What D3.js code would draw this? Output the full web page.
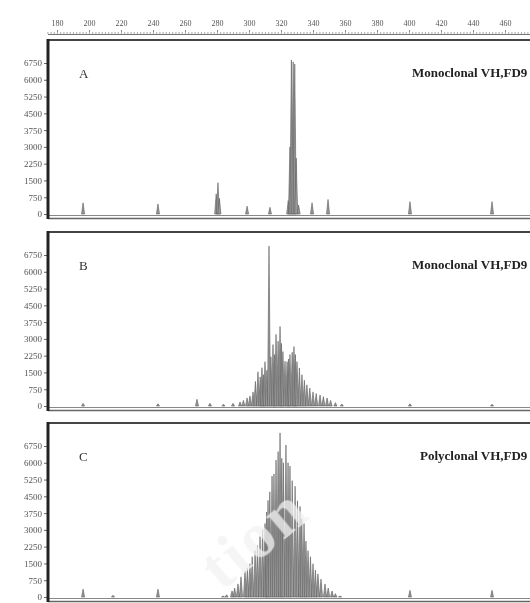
<!DOCTYPE html>
<html>
<head>
<meta charset="utf-8">
<script src="https://cdn.jsdelivr.net/npm/d3@7/dist/d3.min.js"></script>
<style>
  body { margin: 0; background: #fff; }
  text { font-family: "Liberation Serif", "Times New Roman", serif; }
</style>
</head>
<body>
<script>
// fragment size ticks (top axis) and fluorescence ticks (left axes)
const sizeTicks = [180, 200, 220, 240, 260, 280, 300, 320, 340, 360, 380, 400, 420, 440, 460]
const countTicks = [0, 750, 1500, 2250, 3000, 3750, 4500, 5250, 6000, 6750]

const panelLetters = ['A', 'B', 'C']
const panelTitles = ['Monoclonal VH,FD9', 'Monoclonal VH,FD9', 'Polyclonal VH,FD9']

// peaks: size (bp) and height
const sizesA = [196.3, 243.1, 279.5, 280.6, 281.5, 298.8, 313.1, 324.5, 325.6, 326.5, 327.6, 328.6, 329.5, 331, 339.4, 349.4, 400.6, 451.9]
const countsA = [500, 450, 900, 1400, 700, 350, 300, 600, 3000, 6885, 6800, 6700, 2500, 400, 500, 650, 550, 550]

const sizesB = [196.3, 243.1, 267.5, 275.6, 284, 290, 294.4, 296.5, 298.8, 300.6, 302.5, 304, 305.6, 307, 308.1, 309, 310, 311.2,
  312.5, 313.7, 315, 316, 316.9, 318.2, 319.4, 320.3, 321.2, 322.5, 323.8, 324.7, 325.6, 327, 328.1, 329, 330, 331.5,
  333.1, 334.6, 336.2, 338, 340, 342, 344.4, 346.5, 348.8, 351, 354, 358, 400.6, 451.9]
const countsB = [120, 100, 300, 120, 80, 120, 180, 250, 360, 450, 630, 1100, 1530, 1300, 1710, 1400, 1980, 1600,
  7150, 2200, 2745, 2300, 3200, 2900, 3555, 2800, 2430, 2000, 1980, 2100, 2300, 2400, 2655, 2300, 1980, 1700,
  1400, 1150, 945, 800, 630, 560, 495, 420, 360, 250, 150, 90, 100, 80]

const sizesC = [196.3, 215, 243.1, 283.8, 286, 289.4, 291, 293.1, 295, 297.5, 299, 300.6, 302, 303.8, 305.3, 306.9, 308.5,
  310, 311, 311.9, 313, 314.4, 315.6, 316.9, 318.2, 319.4, 320.5, 321.5, 323.1, 324.4, 325.6, 327, 328.8, 330.3,
  331.9, 333, 334.4, 335.6, 336.9, 338.4, 340, 341.5, 343.1, 345, 347.5, 349.5, 351.9, 354, 356.9, 400.6, 451.9]
const countsC = [350, 80, 350, 45, 100, 270, 400, 585, 900, 1170, 1300, 1485, 1800, 2070, 2300, 2700, 3000,
  3285, 3800, 4320, 4700, 5400, 5500, 6120, 6500, 7335, 6200, 6000, 6795, 6000, 5850, 5200, 4950, 4300,
  4050, 3500, 3285, 2500, 2070, 1800, 1485, 1200, 1035, 800, 585, 400, 270, 150, 45, 300, 300]

const panelSizes = [sizesA, sizesB, sizesC]
const panelCounts = [countsA, countsB, countsC]

const m = { width: 530, height: 603, left: 48 }
// vertical layout of the three panels (top border and zero line)
const panelTop = [40, 232, 423]
const panelZero = [214, 406, 597]

const svg = d3.select('body').append('svg')
    .attr('width', m.width)
    .attr('height', m.height)

// the scanned figure is soft, blur it a little
svg.append('filter').attr('id', 'soft')
  .append('feGaussianBlur').attr('stdDeviation', 0.45)

svg.append('clipPath').attr('id', 'clip')
  .append('rect')
    .attr('x', m.left).attr('y', 0)
    .attr('width', m.width - m.left).attr('height', m.height)

const root = svg.append('g').attr('filter', 'url(#soft)')

const x = d3.scaleLinear()
    .domain([180, 460])
    .range([57, 505])

// top size axis
const topAxis = root.append('g')
    .attr('transform', 'translate(0,34)')
    .call(d3.axisTop(x).tickValues(sizeTicks).tickSize(4).tickPadding(4))
topAxis.select('.domain').remove()
topAxis.selectAll('text').attr('font-size', 8).attr('fill', '#555')
    .attr('font-family', '"Liberation Serif", serif')
topAxis.selectAll('line').attr('stroke', '#888')

root.append('g')
    .attr('transform', 'translate(0,34)')
    .call(d3.axisTop(x).tickValues(d3.range(174, 480, 2)).tickSize(2).tickFormat(''))
  .call(g => g.select('.domain').remove())
  .selectAll('line').attr('stroke', '#aaa')

root.append('line')
    .attr('x1', m.left).attr('x2', m.width)
    .attr('y1', 34.5).attr('y2', 34.5)
    .attr('stroke', '#777')

panelLetters.forEach(function(letter, p) {
    const top = panelTop[p]
    const zero = panelZero[p]
    const y = d3.scaleLinear()
        .domain([0, 6750])
        .range([zero, zero - 151])

    const g = root.append('g')

    // left axis
    const ax = g.append('g')
        .attr('transform', 'translate(' + (m.left - 1) + ',0)')
        .call(d3.axisLeft(y).tickValues(countTicks).tickFormat(d3.format('d')).tickSize(3).tickPadding(2))
    ax.select('.domain').remove()
    ax.selectAll('text').attr('font-size', 9).attr('fill', '#555')
        .attr('font-family', '"Liberation Serif", serif')
    ax.selectAll('line').attr('stroke', '#666')

    // peaks
    const plot = g.append('g').attr('clip-path', 'url(#clip)')
    const sizes = panelSizes[p]
    const counts = panelCounts[p]
    const w = 0.95
    plot.selectAll('.peak')
      .data(d3.range(sizes.length))
      .enter()
      .append('path')
        .attr('class', 'peak')
        .attr('d', function(i) {
            const s = sizes[i]
            return 'M' + x(s - w) + ',' + zero +
                   'L' + x(s) + ',' + y(counts[i]) +
                   'L' + x(s + w) + ',' + zero + 'Z'
        })
        .attr('fill', '#9a9a9a')
        .attr('stroke', '#5a5a5a')
        .attr('stroke-width', 0.6)
        .attr('stroke-linejoin', 'round')

    // frame: top line, double bottom line, heavy left border
    g.append('line')
        .attr('x1', m.left).attr('x2', m.width)
        .attr('y1', top).attr('y2', top)
        .attr('stroke', '#444').attr('stroke-width', 2)
    g.append('line')
        .attr('x1', m.left).attr('x2', m.width)
        .attr('y1', zero + 1.5).attr('y2', zero + 1.5)
        .attr('stroke', '#888').attr('stroke-width', 1)
    g.append('line')
        .attr('x1', m.left).attr('x2', m.width)
        .attr('y1', zero + 4.5).attr('y2', zero + 4.5)
        .attr('stroke', '#666').attr('stroke-width', 1.3)
    g.append('line')
        .attr('x1', m.left).attr('x2', m.left)
        .attr('y1', top - 1).attr('y2', zero + 5)
        .attr('stroke', '#222').attr('stroke-width', 3)

    g.append('text')
        .attr('x', 79).attr('y', top + 38)
        .attr('font-size', 13).attr('fill', '#333')
        .text(letter)

    g.append('text')
        .attr('x', p === 2 ? 420 : 412).attr('y', top + 37)
        .attr('font-size', 13).attr('fill', '#222')
        .attr('font-weight', 'bold')
        .text(panelTitles[p])
})

// faint watermark fragment over panel C
svg.append('text')
    .attr('transform', 'translate(222,592) rotate(-40)')
    .attr('font-family', '"Liberation Sans", sans-serif')
    .attr('font-size', 64)
    .attr('font-weight', 'bold')
    .attr('letter-spacing', 3)
    .attr('fill', '#f2f2f2')
    .attr('opacity', 0.75)
    .text('tion')
</script>
</body>
</html>
